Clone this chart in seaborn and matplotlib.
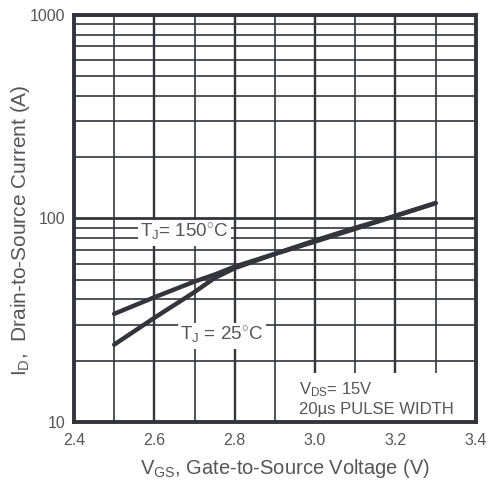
import numpy as np
import pandas as pd
import matplotlib
matplotlib.use("Agg")
import matplotlib.pyplot as plt
import seaborn as sns
from matplotlib.ticker import FixedLocator, NullFormatter

# --- data ---
vgs = [2.5, 2.6, 2.7, 2.75, 2.8, 2.9, 3.0, 3.1, 3.2, 3.3]
id_25 = [24, 32.5, 43.5, 51, 57, 67, 78, 90, 103, 119]
id_150 = [34, 41, 49, 53, 58, 67, 77, 89, 103, 119]
series_names = ["T_J = 25°C", "T_J = 150°C"]

df = pd.DataFrame({
    "vgs": vgs * 2,
    "id": id_25 + id_150,
    "serie": [series_names[0]] * len(vgs) + [series_names[1]] * len(vgs),
})

sns.set_style("white")
plt.rcParams["font.family"] = ["Liberation Sans", "DejaVu Sans"]
plt.rcParams["mathtext.fontset"] = "custom"
plt.rcParams["mathtext.rm"] = "Liberation Sans"
plt.rcParams["mathtext.it"] = "Liberation Sans"

c_line = "#34343c"
c_text = "#55555a"

fig = plt.figure(figsize=(4.88, 4.83), dpi=100)
ax = fig.add_axes([0.1516, 0.1263, 0.8234, 0.8427])

sns.lineplot(data=df, x="vgs", y="id", hue="serie", ax=ax,
             palette=[c_line, c_line], linewidth=3.2, legend=False, zorder=5)

ax.set_yscale("log")
ax.set_xlim(2.4, 3.4)
ax.set_ylim(10, 1000)

# --- grille ---
ax.xaxis.set_major_locator(FixedLocator([2.4, 2.6, 2.8, 3.0, 3.2, 3.4]))
ax.xaxis.set_minor_locator(FixedLocator([2.5, 2.7, 2.9, 3.1, 3.3]))
ax.set_xticklabels(["2.4", "2.6", "2.8", "3.0", "3.2", "3.4"])
ax.yaxis.set_major_locator(FixedLocator([10, 100, 1000]))
ax.set_yticklabels(["10", "100", "1000"])
minor_y = [k * 10 ** e for e in (1, 2) for k in range(2, 10)]
ax.yaxis.set_minor_locator(FixedLocator(minor_y))
ax.yaxis.set_minor_formatter(NullFormatter())

ax.grid(True, which="major", axis="x", color=c_line, linewidth=1.7, zorder=1)
ax.grid(True, which="minor", axis="x", color=c_line, linewidth=1.2, zorder=1)
ax.grid(True, which="major", axis="y", color=c_line, linewidth=2.0, zorder=1)
ax.grid(True, which="minor", axis="y", color=c_line, linewidth=1.2, zorder=1)
ax.set_axisbelow(True)

for s in ax.spines.values():
    s.set_color(c_line)
    s.set_linewidth(2.8)

ax.tick_params(which="both", length=0, labelsize=11.5, colors=c_text, pad=6)
ax.tick_params(axis="x", pad=8)

ax.set_xlabel(r"V$_{\mathrm{GS}}$, Gate-to-Source Voltage (V)", fontsize=14.5, color=c_text)
ax.xaxis.set_label_coords(0.525, -0.085)
ax.set_ylabel(r"I$_{\mathrm{D}}$,  Drain-to-Source Current (A)", fontsize=15, color=c_text)
ax.yaxis.set_label_coords(-0.105, 0.47)

# --- annotations ---
box = dict(facecolor="white", edgecolor="none", pad=1.5)
ax.text(2.565, 85, r"T$_{\mathrm{J}}$= 150$^{\circ}$C", fontsize=13.5, color=c_text,
        va="center", ha="left", bbox=box, zorder=3)
ax.text(2.665, 26.5, r"T$_{\mathrm{J}}$ = 25$^{\circ}$C", fontsize=13.5, color=c_text,
        va="center", ha="left", bbox=box, zorder=3)
ax.text(2.96, 10.6, r"V$_{\mathrm{DS}}$= 15V" + "\n" + "20µs PULSE WIDTH", fontsize=12,
        color=c_text, va="bottom", ha="left", linespacing=1.25,
        bbox=dict(facecolor="white", edgecolor="none", pad=4), zorder=2)

plt.savefig("out.png", dpi=100)
